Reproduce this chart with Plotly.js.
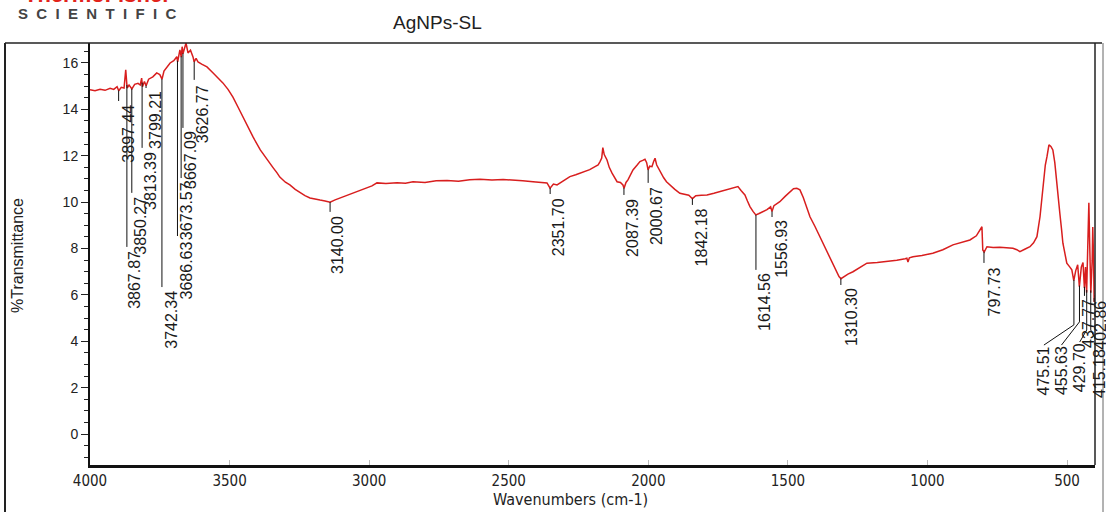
<!DOCTYPE html>
<html><head><meta charset="utf-8">
<script src="https://cdn.plot.ly/plotly-3.0.1.min.js"></script>
<style>html,body{margin:0;padding:0;background:#fff;}#chart{width:1106px;height:512px;}</style>
</head><body><div id="chart"></div>
<script>
// ---- spectrum data (wavenumber cm-1, %T) ----
const wavenumbers = [4000,3982,3964,3946,3928,3915,3903,3897,3888,3878,3872,3867,3860,3855,3850,3840,3828,3820,3815,3812,3805,3799,3790,3775,3761,3750,3742,3735,3725,3713,3700,3689,3686,3678,3673,3670,3667,3660,3656,3649,3640,3631,3627,3620,3613,3600,3581,3559,3540,3524,3505,3488,3470,3452,3434,3416,3390,3366,3345,3330,3320,3300,3284,3265,3248,3230,3212,3194,3176,3158,3140,3122,3105,3080,3058,3030,3008,2990,2972,2940,2900,2870,2843,2800,2760,2721,2680,2640,2603,2560,2520,2485,2450,2413,2380,2363,2352,2340,2327,2300,2281,2260,2234,2210,2191,2180,2173,2167,2163,2158,2148,2140,2130,2112,2100,2091,2087,2080,2073,2064,2055,2040,2030,2020,2012,2006,2001,1995,1987,1981,1976,1970,1958,1945,1935,1923,1905,1887,1870,1855,1842,1830,1810,1790,1765,1744,1720,1697,1685,1679,1668,1654,1645,1636,1625,1615,1605,1590,1575,1562,1557,1550,1540,1529,1510,1493,1480,1468,1457,1445,1433,1421,1403,1385,1368,1350,1333,1317,1310,1300,1285,1267,1240,1217,1180,1146,1110,1080,1074,1070,1065,1052,1020,981,945,909,880,848,825,805,802,797,787,765,741,718,694,680,669,650,633,620,608,597,587,578,572,565,558,551,544,537,531,526,520,515,508,501,490,483,476,469,462,456,449,443,438,434,430,425,422,419,415,410,408,405,403,400];
const transmittance = [14.84,14.80,14.87,14.82,14.91,14.86,14.98,14.80,14.95,14.92,15.70,14.92,15.05,14.98,14.88,15.08,15.12,15.05,15.35,14.98,15.20,15.02,15.30,15.40,15.57,15.50,15.30,15.65,15.80,16.00,16.10,16.27,16.05,16.56,16.25,16.70,16.40,16.75,16.86,16.43,16.55,16.26,16.05,16.20,16.04,15.95,15.83,15.57,15.35,15.14,14.85,14.53,14.10,13.67,13.23,12.81,12.25,11.82,11.50,11.26,11.08,10.86,10.74,10.55,10.40,10.28,10.18,10.12,10.09,10.05,10.00,10.10,10.18,10.30,10.40,10.52,10.61,10.70,10.83,10.80,10.84,10.82,10.88,10.85,10.92,10.93,10.90,10.97,10.99,10.95,10.98,10.96,10.92,10.88,10.86,10.83,10.60,10.78,10.74,10.95,11.10,11.18,11.31,11.40,11.53,11.60,11.75,11.90,12.35,12.05,11.82,11.50,11.25,10.88,10.85,10.74,10.60,10.85,10.96,11.15,11.39,11.60,11.75,11.80,11.85,11.70,11.39,11.55,11.53,11.75,11.89,11.60,11.31,11.05,10.88,10.74,10.55,10.38,10.32,10.30,10.15,10.28,10.30,10.31,10.38,10.45,10.52,10.60,10.62,10.67,10.50,10.31,10.05,9.81,9.60,9.45,9.50,9.59,9.68,9.80,9.60,9.85,9.92,10.02,10.25,10.45,10.58,10.60,10.53,10.20,9.80,9.37,8.95,8.51,8.08,7.65,7.20,6.79,6.70,6.78,6.90,7.00,7.20,7.37,7.40,7.44,7.50,7.56,7.58,7.42,7.60,7.65,7.70,7.80,7.95,8.16,8.25,8.37,8.55,8.94,7.94,7.85,8.08,8.05,8.06,8.02,8.01,7.95,7.87,7.98,8.08,8.25,8.51,9.37,10.67,11.60,11.96,12.47,12.40,12.25,11.70,10.96,10.20,9.52,8.85,8.23,7.80,7.37,7.20,7.08,6.62,7.05,7.30,6.36,7.20,7.40,6.30,7.20,6.10,8.00,9.97,8.20,6.10,7.50,8.93,7.50,5.70,6.00];

// ---- peak picks ----
const peakPositions = [3897.44,3867.87,3850.27,3813.39,3799.21,3742.34,3686.63,3673.57,3667.09,3626.77,3140.00,2351.70,2087.39,2000.67,1842.18,1614.56,1556.93,1310.30,797.73,475.51,455.63,437.77,429.70,415.18,402.86];

// ---- axis ticks / titles ----
const xTickVals = [4000,3500,3000,2500,2000,1500,1000,500];
const yTickVals = [0,2,4,6,8,10,12,14,16];
const chartTitle = "AgNPs-SL";
const xTitle = "Wavenumbers (cm-1)";
const yTitle = "%Transmittance";

// ---- label placement (layout only): [line end %T, label top %T, label shift px, bent leader] ----
const labelPlacement = [
 [14.36,14.23,9,0],[8.07,7.94,8,0],[10.40,10.27,9,0],[12.34,12.21,9,0],[14.92,14.84,10,0],
 [6.34,6.22,10,0],[8.54,8.37,9,0],[11.04,10.91,5,0],[13.20,13.11,7,0],[15.27,15.09,8,0],
 [9.58,9.45,8,0],[10.35,10.22,8,0],[10.31,10.18,9,0],[10.83,10.70,9,0],[9.88,9.79,9,0],
 [7.08,6.99,9,0],[9.36,9.28,10,0],[6.43,6.34,10,0],[7.38,7.25,10,0],
 [4.71,3.84,-30,1],[4.84,3.84,-18,1],[5.96,5.87,4,0],[4.49,3.97,-7,1],[4.49,3.72,9,1],[5.87,5.78,6,0]
];

const W = 1106, H = 512, M = {l:90, r:11, t:43, b:47};
const xRange = [4000, 400], yRange = [-1.33, 16.86];
const pxPerWn = (W - M.l - M.r) / (xRange[0] - xRange[1]);

function curveAt(wn) {
  for (let i = 0; i < wavenumbers.length - 1; i++) {
    const a = wavenumbers[i], b = wavenumbers[i+1];
    if (wn <= a && wn >= b) {
      const t = (a - wn) / (a - b);
      return transmittance[i] + t * (transmittance[i+1] - transmittance[i]);
    }
  }
  return transmittance[transmittance.length-1];
}

const shapes = [];
const annotations = [];
const labelFont = {family: 'Liberation Sans, Arial, sans-serif', size: 16, color: '#1a1a1a'};

peakPositions.forEach((wn, i) => {
  const [endV, topV, dx, bent] = labelPlacement[i];
  const yTop = curveAt(wn);
  const lx = wn - dx / pxPerWn;
  let path = `M ${wn},${yTop} L ${wn},${endV}`;
  if (bent) path += ` L ${lx},${topV}`;
  shapes.push({type:'path', xref:'x', yref:'y', path, line:{color:'#111', width:1}});
  annotations.push({x: wn, xref:'x', xshift: dx, y: topV, yref:'y', yanchor:'top', xanchor:'center',
    text: wn.toFixed(2), textangle: -90, showarrow:false, borderpad:0, font: labelFont});
});

const pxX = px => (px - M.l) / (W - M.l - M.r);
const pxY = py => (H - M.b - py) / (H - M.t - M.b);

// frame lines
shapes.push({type:'line', xref:'paper', yref:'paper', x0:pxX(5), x1:pxX(1102), y0:1, y1:1, line:{color:'#222', width:1.5}});
shapes.push({type:'line', xref:'paper', yref:'paper', x0:1, x1:1, y0:0, y1:1, line:{color:'#222', width:1.5}});
shapes.push({type:'line', xref:'paper', yref:'paper', x0:pxX(5), x1:pxX(5), y0:pxY(512), y1:1, line:{color:'#222', width:2}});
shapes.push({type:'line', xref:'paper', yref:'paper', x0:pxX(1103), x1:pxX(1103), y0:pxY(512), y1:1, line:{color:'#666', width:1}});

const narrow = 'Liberation Sans Narrow, Arial Narrow, DejaVu Sans Condensed, Liberation Sans, sans-serif';
annotations.push({xref:'paper', yref:'paper', x:pxX(437), y:pxY(22), text: chartTitle, showarrow:false,
  xanchor:'center', yanchor:'middle', font:{family:'Liberation Sans, Arial, sans-serif', size:19, color:'#222'}});
annotations.push({xref:'paper', yref:'paper', x:pxX(570), y:pxY(499), text: xTitle, showarrow:false,
  xanchor:'center', yanchor:'middle', font:{family:narrow, size:16, color:'#222'}});
annotations.push({xref:'paper', yref:'paper', x:pxX(18), y:pxY(256), text: yTitle, showarrow:false, textangle:-90,
  xanchor:'center', yanchor:'middle', font:{family:'Liberation Sans, Arial, sans-serif', size:16, color:'#222'}});
annotations.push({xref:'paper', yref:'paper', x:pxX(97), y:pxY(14), text: 'S\u00a0\u00a0C\u00a0\u00a0I\u00a0\u00a0E\u00a0\u00a0N\u00a0\u00a0T\u00a0\u00a0I\u00a0\u00a0F\u00a0\u00a0I\u00a0\u00a0C', showarrow:false,
  xanchor:'center', yanchor:'middle', font:{family:'Liberation Sans, Arial, sans-serif', size:15, color:'#444', weight:700}});
annotations.push({xref:'paper', yref:'paper', x:pxX(97), y:pxY(-5), yanchor:'middle', text: 'ThermoFisher', showarrow:false,
  xanchor:'center', font:{family:'Liberation Sans, Arial, sans-serif', size:22, color:'#e2231a', weight:700}});

const trace = {x: wavenumbers, y: transmittance, type:'scatter', mode:'lines',
  line:{color:'#d81e1e', width:1.5}, hoverinfo:'skip'};

const layout = {
  width: W, height: H, margin: M, paper_bgcolor:'#fff', plot_bgcolor:'#fff', showlegend:false,
  xaxis: {range: xRange, tickvals: xTickVals, ticktext: xTickVals.map(String), showgrid:false, zeroline:false,
    showline:true, linecolor:'#111', linewidth:3, ticks:'inside', ticklen:5, tickcolor:'#bbb',
    tickfont:{family:narrow, size:15, color:'#222'}},
  yaxis: {range: yRange, tickvals: yTickVals, ticktext: yTickVals.map(String), showgrid:false, zeroline:false,
    showline:true, linecolor:'#111', linewidth:2, ticks:'outside', ticklen:7, tickcolor:'#222',
    minor:{dtick:0.5, tick0:0, ticks:'outside', ticklen:4, tickcolor:'#222', showgrid:false},
    tickfont:{family:'Liberation Sans, Arial, sans-serif', size:14, color:'#222'}},
  shapes, annotations
};
Plotly.newPlot('chart', [trace], layout, {staticPlot:true, displayModeBar:false});
</script></body></html>
